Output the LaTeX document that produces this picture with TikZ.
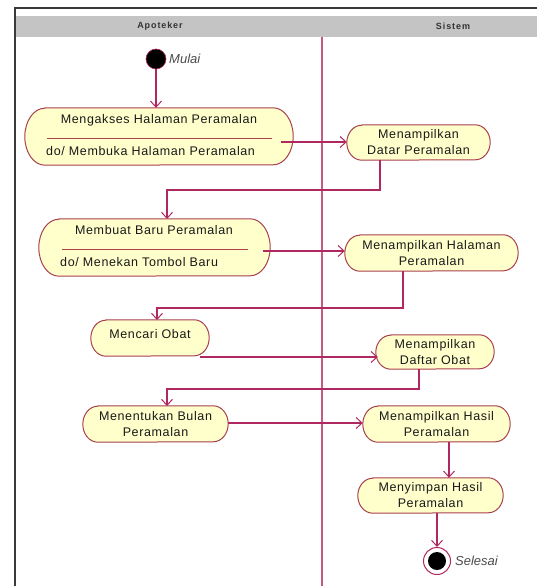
\documentclass[tikz,border=0pt]{standalone}
\usepackage{fontspec}
\setmainfont{Liberation Sans}
\newfontfamily\actfont[LetterSpace=5]{Liberation Sans}
\newfontfamily\headfont[LetterSpace=10]{Liberation Sans}
\usetikzlibrary{arrows.meta,calc}
\definecolor{actfill}{HTML}{FFFFCC}
\definecolor{actdraw}{HTML}{A8404E}
\definecolor{flowcol}{HTML}{B02860}
\definecolor{lanecol}{HTML}{C45A80}
\definecolor{headcol}{HTML}{C4C4C4}
\definecolor{framecol}{HTML}{3A3A3A}
% outline of an action: straight top and bottom, elliptical ends
\newcommand\actoutline[3]{%
  \filldraw[actline] ($(#1.north west)+(#2,0)$) -- ($(#1.north east)+(-#2,0)$)
    arc[start angle=-90,end angle=90,x radius=#2,y radius=#3]
    -- ($(#1.south west)+(#2,0)$)
    arc[start angle=90,end angle=270,x radius=#2,y radius=#3] -- cycle;}
\begin{document}
\begin{tikzpicture}[x=1pt,y=-1pt,
  action/.style={inner sep=0pt},
  actline/.style={draw=actdraw, fill=actfill, line width=1pt},
  acttext/.style={font=\actfont\fontsize{12.5}{16}\selectfont, text=black!90, align=center, inner sep=0pt},
  sep/.style={draw=actdraw, line width=1pt},
  flow/.style={draw=flowcol, line width=1.1pt, -{Straight Barb[length=6pt,width=11pt,line width=1pt]}},
  lane/.style={draw=lanecol, line width=1.1pt},
  header/.style={font=\headfont\fontsize{9}{10}\selectfont\bfseries, text=black!80, inner sep=0pt},
  state/.style={font=\fontsize{13}{15}\selectfont\itshape, text=black!70, anchor=west, inner sep=0pt}]
\useasboundingbox (0,0) rectangle (537,586);
\fill[white] (0,0) rectangle (537,586);

% swimlane frame and header
\fill[headcol] (16,16) rectangle (537,37);
\draw[framecol, line width=2.5pt] (15,586) -- (15,8) -- (537,8);
\draw[lane] (322,37) -- (322,586);
\node[header] (h1) at (160,26) {Apoteker};
\node[header] (h2) at (453,26) {Sistem};

% start and end
\node[circle, fill=black, draw=flowcol, line width=0.6pt, minimum size=20pt, inner sep=0pt] (start) at (156,59) {};
\node[state] (lstart) at (169,59) {Mulai};
\node[circle, draw=flowcol, line width=1pt, fill=white, minimum size=27pt, inner sep=0pt] (fin) at (437,561) {};
\fill[black] (fin.center) circle (9);
\node[state] (lfin) at (455,561) {Selesai};

% actions
\node[action, minimum width=268, minimum height=57] (a1) at (159,136.5) {};
\actoutline{a1}{20}{28.5}
\draw[sep] (47,138) -- (272,138);
\node[acttext] (a1t) at (159,120) {Mengakses Halaman Peramalan};
\node[acttext, anchor=west] (a1d) at (46,151) {do/ Membuka Halaman Peramalan};

\node[action, minimum width=143, minimum height=35] (a2) at (418.5,142.5) {};
\actoutline{a2}{15}{17.5}
\node[acttext] (a2t) at (a2.center) {Menampilkan\\Datar Peramalan};

\node[action, minimum width=231, minimum height=57] (a3) at (154.5,247.5) {};
\actoutline{a3}{20}{28.5}
\draw[sep] (62,249) -- (248,249);
\node[acttext] (a3t) at (154,230) {Membuat Baru Peramalan};
\node[acttext, anchor=west] (a3d) at (60,262) {do/ Menekan Tombol Baru};

\node[action, minimum width=173, minimum height=36] (a4) at (431.5,253) {};
\actoutline{a4}{15}{18}
\node[acttext] (a4t) at (a4.center) {Menampilkan Halaman\\Peramalan};

\node[action, minimum width=118, minimum height=36] (a5) at (150,338) {};
\actoutline{a5}{15}{18}
\node[acttext] (a5t) at (150,334) {Mencari Obat};

\node[action, minimum width=118, minimum height=34] (a6) at (435,352) {};
\actoutline{a6}{15}{17}
\node[acttext] (a6t) at (a6.center) {Menampilkan\\Daftar Obat};

\node[action, minimum width=145, minimum height=36] (a7) at (155.5,424) {};
\actoutline{a7}{15}{18}
\node[acttext] (a7t) at (a7.center) {Menentukan Bulan\\Peramalan};

\node[action, minimum width=147, minimum height=36] (a8) at (436.5,424) {};
\actoutline{a8}{15}{18}
\node[acttext] (a8t) at (a8.center) {Menampilkan Hasil\\Peramalan};

\node[action, minimum width=145, minimum height=35] (a9) at (430.5,495.5) {};
\actoutline{a9}{15}{17.5}
\node[acttext] (a9t) at (a9.center) {Menyimpan Hasil\\Peramalan};

% bend points of the connectors
\coordinate (o1) at (281,142);
\coordinate (b1) at (380,190);
\coordinate (i3) at (167,219);
\coordinate (o3) at (263,251);
\coordinate (b2) at (403,308);
\coordinate (i5) at (157,320);
\coordinate (o5) at (200,357);
\coordinate (b3) at (419,389);
\coordinate (i7) at (167,406);
\coordinate (o7) at (228,423);
\coordinate (o8) at (449,442);
\coordinate (o9) at (437,513);

% control flow
\draw[flow] (start) -- (start |- a1.north);
\draw[flow] (o1) -- (a2.west |- o1);
\draw[flow] (a2.south -| b1) -- (b1) -| (i3);
\draw[flow] (o3) -- (a4.west |- o3);
\draw[flow] (a4.south -| b2) -- (b2) -| (i5);
\draw[flow] (o5) -- ($(a6.west |- o5)+(2,0)$);
\draw[flow] (a6.south -| b3) -- (b3) -| (i7);
\draw[flow] (o7) -- (a8.west |- o7);
\draw[flow] (o8) -- (a9.north -| o8);
\draw[flow] (o9) -- (fin.north);
\end{tikzpicture}
\end{document}
